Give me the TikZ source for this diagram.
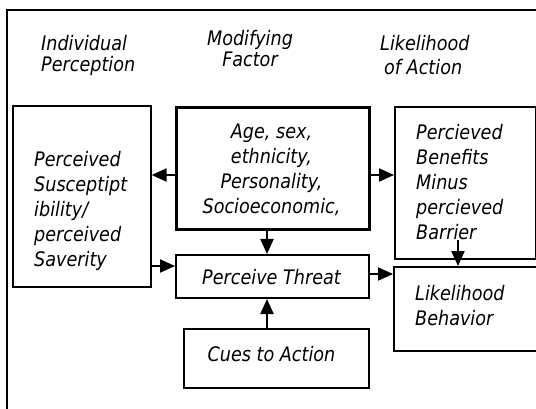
\documentclass[tikz,border=0pt]{standalone}
\usepackage{fontspec}
\setmainfont{DejaVu Sans}[FakeStretch=0.88]
\usetikzlibrary{arrows.meta}
\begin{document}
\begin{tikzpicture}[x=1pt,y=-1pt,
  every node/.style={inner sep=0pt},
  boxtext/.style={font=\fontsize{20}{25}\selectfont\itshape},
  headtext/.style={font=\fontsize{20}{21}\selectfont\itshape},
  box/.style={draw, line width=1.6pt, anchor=north west},
  boldbox/.style={box, line width=3pt},
  midbox/.style={box, line width=2pt},
  arr/.style={line width=2pt, -{Triangle[length=15pt,width=13pt]}}]
\useasboundingbox (0,0) rectangle (536,409);
% page frame (runs off the right and bottom edges)
\draw[line width=1.3pt] (536,10) -- (7,10) -- (7,409);

% column headings
\node[headtext, align=left, anchor=west] (h1) at (41,55) {Individual\\Perception};
\node[headtext, align=center] (h2) at (250,49) {Modifying\\Factor};
\node[headtext, align=left, anchor=west, font=\fontsize{20}{24}\selectfont\itshape]
  (h3) at (380,55) {Likelihood\\\hspace*{4pt}of Action};

% boxes
\node[box, minimum width=138pt, minimum height=181pt] (susc) at (12,105) {};
\node[boldbox, minimum width=193pt, minimum height=122pt] (mod) at (175,106) {};
\node[box, minimum width=141pt, minimum height=152pt] (ben) at (394,106) {};
\node[midbox, minimum width=193pt, minimum height=43pt] (threat) at (175,254) {};
\node[midbox, minimum width=143pt, minimum height=84pt] (beh) at (393,266) {};
\node[box, minimum width=185pt, minimum height=59pt] (cues) at (183,328) {};

% box texts
\node[boxtext, align=left, anchor=west] (susc-t) at (34,211)
  {Perceived\\Susceptipt\\ibility/\\perceived\\Saverity};
\node[boxtext, align=center] (mod-t) at (271.5,170)
  {Age, sex,\\ethnicity,\\Personality,\\Socioeconomic,};
\node[boxtext, align=left, anchor=west] (ben-t) at (416,182)
  {Percieved\\Benefits\\Minus\\percieved\\Barrier};
\node[boxtext] (threat-t) at (271.5,277) {Perceive Threat};
\node[boxtext, align=left, anchor=west] (beh-t) at (415,306)
  {Likelihood\\Behavior};
\node[boxtext] (cues-t) at (271.5,354) {Cues to Action};

% connectors
\coordinate (r1) at (0,175);
\coordinate (r2) at (0,266);
\coordinate (r3) at (0,274);
\coordinate (c1) at (267,0);
\coordinate (c2) at (458,0);
\coordinate (barrier) at (458,240);
\draw[arr] (mod.west |- r1) -- (susc.east |- r1);
\draw[arr] (mod.east |- r1) -- (ben.west |- r1);
\draw[arr] (mod.south -| c1) -- (threat.north -| c1);
\draw[arr] (susc.east |- r2) -- (threat.west |- r2);
\draw[arr] (threat.east |- r3) -- (beh.west |- r3);
\draw[arr] (barrier) -- (beh.north -| c2);
\draw[arr] (cues.north -| c1) -- (threat.south -| c1);
\end{tikzpicture}
\end{document}
